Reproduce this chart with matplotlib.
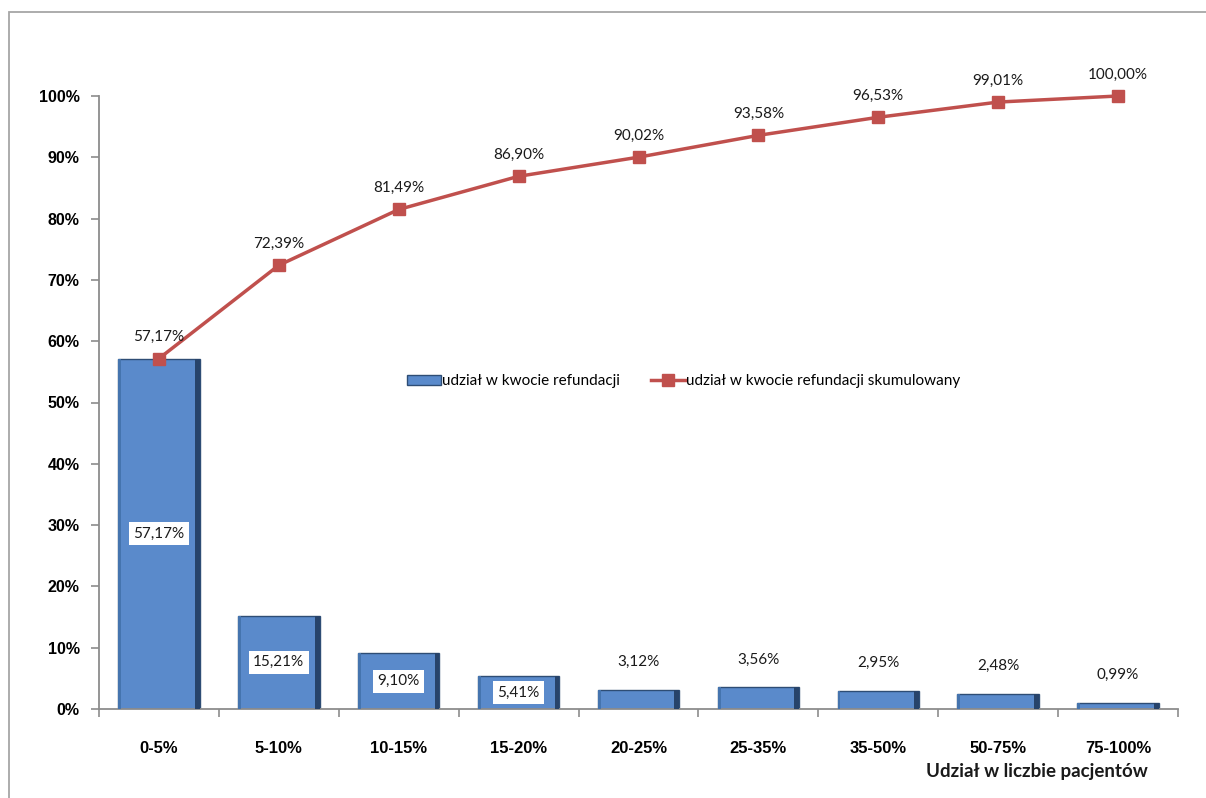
import matplotlib
matplotlib.use("Agg")
import matplotlib.pyplot as plt
from matplotlib.patches import Rectangle, Patch
from matplotlib.lines import Line2D
import numpy as np

categories = ["0-5%", "5-10%", "10-15%", "15-20%", "20-25%", "25-35%", "35-50%", "50-75%", "75-100%"]
share = [57.17, 15.21, 9.10, 5.41, 3.12, 3.56, 2.95, 2.48, 0.99]
cumulative = [57.17, 72.39, 81.49, 86.90, 90.02, 93.58, 96.53, 99.01, 100.00]
yticks = [0, 10, 20, 30, 40, 50, 60, 70, 80, 90, 100]

W, H = 1206, 798
fig = plt.figure(figsize=(W / 100, H / 100), dpi=100)
fig.patch.set_facecolor("white")

# outer chart frame
fig.patches.append(Rectangle((9 / W, -0.05), 1.2, 1 - 12 / H + 0.05, transform=fig.transFigure,
                             fill=False, edgecolor="#A6A6A6", linewidth=1.3))

ax = fig.add_axes([99 / W, 1 - 709 / H, (1178 - 99) / W, (709 - 96) / H])
x = np.arange(len(categories))
bw = 0.68

# bars with a simple bevel look
ax.bar(x, share, width=bw, color="#5A8ACB", edgecolor="#2E4D75", linewidth=1.0, zorder=2)
ax.bar(x + bw / 2 - 0.02, share, width=0.04, color="#27436A", linewidth=0, zorder=3)
ax.bar(x - bw / 2 + 0.012, share, width=0.024, color="#4574AE", linewidth=0, zorder=3)

ax.plot(x, cumulative, color="#C0504D", linewidth=2.5, marker="s", markersize=8,
        markerfacecolor="#C0504D", markeredgecolor="#C0504D", zorder=5, clip_on=False)

def fmt(v):
    return f"{v:.2f}".replace(".", ",") + "%"

lab_font = dict(family=["Lato", "DejaVu Sans"], fontsize=11, color="#1A1A1A")
for xi, v in zip(x, share):
    if v >= 5:
        ax.text(xi, v / 2, fmt(v), ha="center", va="center", zorder=6,
                bbox=dict(boxstyle="square,pad=0.3", facecolor="white", edgecolor="none"), **lab_font)
    else:
        ax.text(xi, v + 4.5, fmt(v), ha="center", va="center", zorder=6, **lab_font)
for xi, v in zip(x, cumulative):
    ax.text(xi, v + 3.5, fmt(v), ha="center", va="center", zorder=6, **lab_font)

ax.set_xlim(-0.5, len(categories) - 0.5)
ax.set_ylim(0, 100)
ax.set_yticks(yticks)
ax.set_yticklabels([f"{t}%" for t in yticks], fontfamily="Liberation Sans", fontweight="bold", fontsize=11.5)
ax.set_xticks(x)
ax.set_xticklabels(categories, fontfamily="Liberation Sans", fontweight="bold", fontsize=12)
ax.set_xticks(np.arange(len(categories) + 1) - 0.5, minor=True)
ax.tick_params(axis="x", which="major", length=0, pad=23)
ax.tick_params(axis="x", which="minor", length=6, color="#8C8C8C", width=1.2)
ax.tick_params(axis="y", length=6, color="#8C8C8C", width=1.2, pad=8)
for s in ["top", "right"]:
    ax.spines[s].set_visible(False)
for s in ["left", "bottom"]:
    ax.spines[s].set_color("#8C8C8C")
    ax.spines[s].set_linewidth(1.3)

fig.text(1148 / W, 1 - 772 / H, "Udział w liczbie pacjentów", ha="right", va="center",
         fontfamily=["Lato", "DejaVu Sans"], fontweight="bold", fontsize=13.5, color="#1A1A1A")

handles = [Patch(facecolor="#5A8ACB", edgecolor="#2E4D75"),
           Line2D([0], [0], color="#C0504D", linewidth=2.5, marker="s", markersize=8)]
leg = ax.legend(handles, ["udział w kwocie refundacji", "udział w kwocie refundacji skumulowany"],
                loc="center", bbox_to_anchor=(0.542, 0.535), ncol=2, frameon=False,
                prop=dict(family=["Lato", "DejaVu Sans"], size=11), handlelength=2.2,
                handleheight=0.6, handletextpad=0.1, columnspacing=2.0)

fig.savefig("out.png", dpi=100)
